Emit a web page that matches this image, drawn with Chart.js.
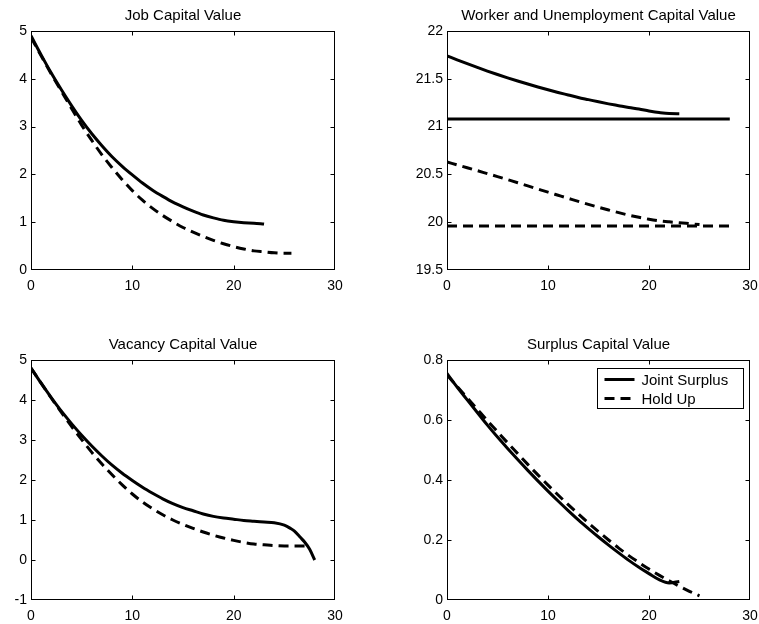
<!DOCTYPE html>
<html>
<head>
<meta charset="utf-8">
<title>Capital Values</title>
<script src="https://cdn.jsdelivr.net/npm/chart.js@4.4.0/dist/chart.umd.min.js"></script>
<style>
  body { margin: 0; background: #fff; overflow: hidden; }
  canvas { position: absolute; }
</style>
</head>
<body>
<canvas id="job" width="380" height="310" style="left:0;top:0"></canvas>
<canvas id="worker" width="379" height="310" style="left:380px;top:0"></canvas>
<canvas id="vacancy" width="380" height="314" style="left:0;top:310px"></canvas>
<canvas id="surplus" width="379" height="314" style="left:380px;top:310px"></canvas>
<script>
// time grids
const t23 = [0,1,2,3,4,5,6,7,8,9,10,11,12,13,14,15,16,17,18,19,20,21,22,23];
const t25 = [0,1,2,3,4,5,6,7,8,9,10,11,12,13,14,15,16,17,18,19,20,21,22,23,24,25];
const tFlat = [0, 28];

// Job capital value
const jobJoint = [4.9, 4.5, 4.12, 3.77, 3.44, 3.13, 2.85, 2.6, 2.37, 2.17, 1.99, 1.82, 1.67, 1.54, 1.42, 1.32, 1.23, 1.15, 1.09, 1.04, 1.01, 0.99, 0.98, 0.96];
const jobHoldT = [0,1,2,3,4,5,6,7,8,9,10,11,12,13,14,15,16,17,18,19,20,21,22,23,24,25,25.7];
const jobHold = [4.87, 4.48, 4.1, 3.74, 3.38, 3.03, 2.71, 2.41, 2.14, 1.89, 1.66, 1.46, 1.29, 1.14, 1.01, 0.89, 0.79, 0.7, 0.62, 0.55, 0.49, 0.44, 0.4, 0.38, 0.36, 0.35, 0.35];

// Worker and unemployment capital value
const workerJoint = [21.74, 21.698, 21.658, 21.619, 21.581, 21.545, 21.51, 21.477, 21.445, 21.414, 21.385, 21.357, 21.331, 21.305, 21.282, 21.259, 21.238, 21.219, 21.2, 21.184, 21.164, 21.147, 21.136, 21.135];
const unempJoint = [21.08, 21.08];
const workerHold = [20.63, 20.6, 20.57, 20.539, 20.508, 20.477, 20.445, 20.413, 20.38, 20.347, 20.314, 20.282, 20.25, 20.218, 20.187, 20.157, 20.128, 20.1, 20.074, 20.051, 20.031, 20.015, 20.004, 19.995, 19.985, 19.975];
const unempHold = [19.96, 19.96];

// Vacancy capital value
const vacJointT = [0,1,2,3,4,5,6,7,8,9,10,11,12,13,14,15,16,17,18,19,20,21,22,23,24,25,25.6,26,26.6,27,27.5,28];
const vacJoint = [4.8, 4.42, 4.06, 3.72, 3.41, 3.12, 2.85, 2.6, 2.37, 2.17, 1.99, 1.82, 1.67, 1.53, 1.41, 1.31, 1.23, 1.15, 1.09, 1.05, 1.02, 0.99, 0.97, 0.95, 0.93, 0.87, 0.79, 0.72, 0.56, 0.45, 0.27, 0.0];
const vacHoldT = [0,1,2,3,4,5,6,7,8,9,10,11,12,13,14,15,16,17,18,19,20,21,22,23,24,25,26,27,27.4];
const vacHold = [4.8, 4.42, 4.05, 3.69, 3.34, 3.01, 2.69, 2.4, 2.13, 1.88, 1.65, 1.45, 1.28, 1.13, 1.0, 0.89, 0.79, 0.7, 0.62, 0.55, 0.49, 0.44, 0.4, 0.38, 0.36, 0.35, 0.35, 0.35, 0.34];

// Surplus capital value
const surplusJoint = [0.755, 0.71, 0.667, 0.625, 0.583, 0.543, 0.505, 0.468, 0.432, 0.397, 0.363, 0.33, 0.298, 0.267, 0.238, 0.21, 0.183, 0.157, 0.132, 0.109, 0.088, 0.068, 0.057, 0.062];
const surplusHold = [0.75, 0.712, 0.674, 0.636, 0.598, 0.561, 0.524, 0.488, 0.452, 0.417, 0.383, 0.35, 0.318, 0.287, 0.257, 0.228, 0.2, 0.173, 0.148, 0.125, 0.103, 0.083, 0.064, 0.046, 0.029, 0.014];

const seriesNames = ['Joint Surplus', 'Hold Up'];
const xTicks = [0, 10, 20, 30];

Chart.defaults.font.family = '"Liberation Sans", Arial, sans-serif';
Chart.defaults.font.size = 14;
Chart.defaults.color = '#000';

const pts = (xs, ys) => xs.map((x, i) => ({ x: x, y: ys[i] }));

function line(label, xs, ys, dashed) {
  return {
    label: label,
    data: pts(xs, ys),
    borderColor: '#000',
    borderWidth: 3,
    borderDash: dashed ? [10, 6] : [],
    borderCapStyle: 'butt',
    pointRadius: 0,
    fill: false,
    cubicInterpolationMode: 'monotone'
  };
}

// matlab-like box, inward ticks, title and legend
const matlabAxes = {
  id: 'matlabAxes',
  afterDatasetsDraw(chart, args, opts) {
    const ctx = chart.ctx, a = chart.chartArea;
    const L = Math.round(a.left) + 0.5, R = Math.round(a.right) - 0.5;
    const T = Math.round(a.top) + 0.5, B = Math.round(a.bottom) - 0.5;
    ctx.save();
    ctx.strokeStyle = '#000';
    ctx.lineWidth = 1;
    ctx.setLineDash([]);
    ctx.strokeRect(L, T, R - L, B - T);
    ctx.beginPath();
    chart.scales.x.ticks.forEach(tk => {
      const px = Math.round(chart.scales.x.getPixelForValue(tk.value)) + 0.5;
      if (px <= L + 1 || px >= R - 1) return;
      ctx.moveTo(px, B); ctx.lineTo(px, B - 4);
      ctx.moveTo(px, T); ctx.lineTo(px, T + 4);
    });
    chart.scales.y.ticks.forEach(tk => {
      const py = Math.round(chart.scales.y.getPixelForValue(tk.value)) + 0.5;
      if (py <= T + 1 || py >= B - 1) return;
      ctx.moveTo(L, py); ctx.lineTo(L + 4, py);
      ctx.moveTo(R, py); ctx.lineTo(R - 4, py);
    });
    ctx.stroke();

    ctx.fillStyle = '#000';
    ctx.font = '15px "Liberation Sans", Arial, sans-serif';
    ctx.textAlign = 'center';
    ctx.textBaseline = 'alphabetic';
    ctx.fillText(opts.title, (a.left + a.right) / 2, a.top - 11);

    if (opts.legend) {
      const bw = 146, bh = 40;
      const bx = Math.round(a.right - 7 - bw) + 0.5, by = Math.round(a.top + 8) + 0.5;
      ctx.fillStyle = '#fff';
      ctx.fillRect(bx, by, bw, bh);
      ctx.strokeRect(bx, by, bw, bh);
      ctx.font = '15px "Liberation Sans", Arial, sans-serif';
      ctx.textAlign = 'left';
      ctx.textBaseline = 'middle';
      chart.data.datasets.slice(0, 2).forEach((ds, i) => {
        const ry = by + 11 + i * 19;
        ctx.beginPath();
        ctx.lineWidth = 3;
        ctx.setLineDash(ds.borderDash);
        ctx.moveTo(bx + 7, ry);
        ctx.lineTo(bx + 37, ry);
        ctx.stroke();
        ctx.setLineDash([]);
        ctx.fillStyle = '#000';
        ctx.fillText(ds.label, bx + 44, ry + 1);
      });
    }
    ctx.restore();
  }
};

function panel(id, title, yMin, yMax, yStep, area, datasets, legend) {
  const cv = document.getElementById(id);
  const W = cv.width, H = cv.height;
  return new Chart(cv, {
    type: 'line',
    data: { datasets: datasets },
    options: {
      responsive: false,
      devicePixelRatio: 1,
      animation: false,
      layout: { padding: { left: 0, right: W - area.right, top: area.top, bottom: 0 } },
      scales: {
        x: {
          type: 'linear', min: 0, max: 30,
          afterBuildTicks: s => { s.ticks = xTicks.map(v => ({ value: v })); },
          afterFit: s => {
            s.height = H - area.bottom;
            s.paddingLeft = 0; s.paddingRight = 0;
          },
          grid: { display: false, drawTicks: false },
          border: { display: false },
          ticks: { padding: 8, maxRotation: 0, autoSkip: false }
        },
        y: {
          min: yMin, max: yMax,
          afterFit: s => {
            s.width = area.left;
            s.paddingTop = 0; s.paddingBottom = 0;
          },
          grid: { display: false, drawTicks: false },
          border: { display: false },
          ticks: { stepSize: yStep, padding: 4, autoSkip: false, callback: v => String(+v.toFixed(2)) }
        }
      },
      plugins: {
        legend: { display: false },
        tooltip: { enabled: false },
        matlabAxes: { title: title, legend: !!legend }
      }
    },
    plugins: [matlabAxes]
  });
}

panel('job', 'Job Capital Value', 0, 5, 1,
  { left: 31, right: 335, top: 31, bottom: 270 },
  [line(seriesNames[0], t23, jobJoint, false), line(seriesNames[1], jobHoldT, jobHold, true)]);

panel('worker', 'Worker and Unemployment Capital Value', 19.5, 22, 0.5,
  { left: 67, right: 370, top: 31, bottom: 270 },
  [line(seriesNames[0], t23, workerJoint, false), line(seriesNames[1], t25, workerHold, true),
   line(seriesNames[0], tFlat, unempJoint, false), line(seriesNames[1], tFlat, unempHold, true)]);

panel('vacancy', 'Vacancy Capital Value', -1, 5, 1,
  { left: 31, right: 335, top: 50, bottom: 290 },
  [line(seriesNames[0], vacJointT, vacJoint, false), line(seriesNames[1], vacHoldT, vacHold, true)]);

panel('surplus', 'Surplus Capital Value', 0, 0.8, 0.2,
  { left: 67, right: 370, top: 50, bottom: 290 },
  [line(seriesNames[0], t23, surplusJoint, false), line(seriesNames[1], t25, surplusHold, true)], true);
</script>
</body>
</html>
